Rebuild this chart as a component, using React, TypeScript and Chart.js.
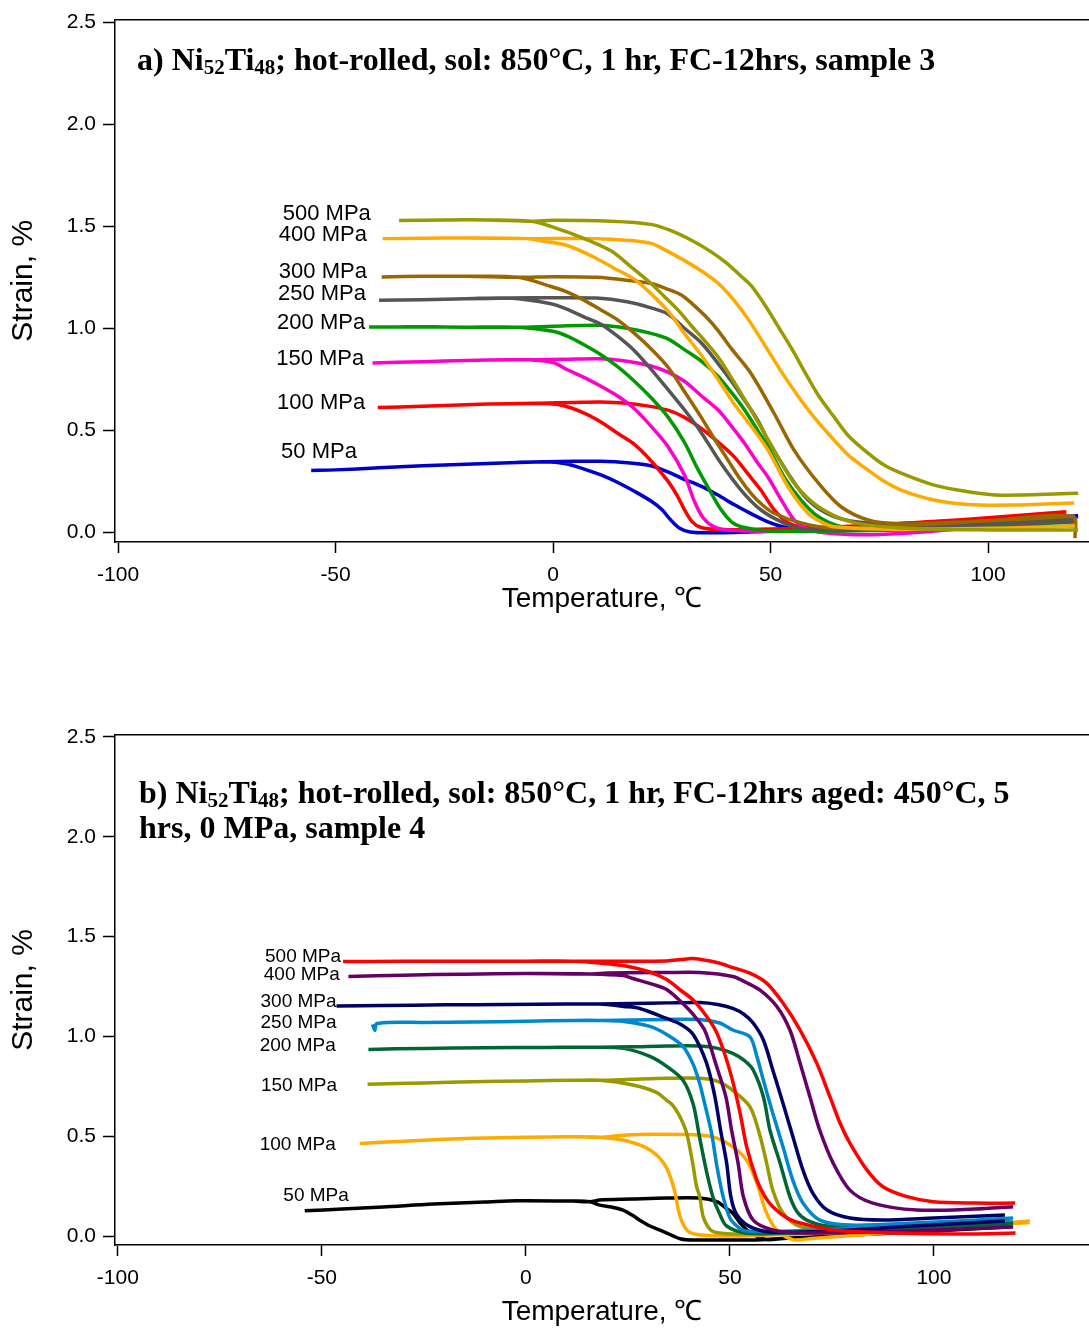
import React, { useEffect, useRef } from "react";
import { Chart, registerables } from "chart.js";
Chart.register(...registerables);

type P = [number, number];

// ---------------- Panel a data: [temperature °C, strain %] ----------------
// plateau: low-temperature part (left end -> split); cool: split -> high T end; heat: split -> high T end
const a50Plateau: P[] = [[-55.6, 0.302], [-50, 0.305], [-40, 0.315], [-30, 0.325], [-20, 0.333], [-10, 0.34], [-2, 0.345]];
const a50Cool: P[] = [[3, 0.335], [7, 0.31], [11, 0.28], [15, 0.242], [18.7, 0.2], [22.5, 0.152], [25, 0.11], [27, 0.06], [29, 0.02], [31.5, 0.0], [36, -0.004], [45, 0.0], [60, 0.01], [80, 0.03], [100, 0.052], [120.7, 0.075]];
const a50Heat: P[] = [[5, 0.347], [11, 0.347], [17, 0.34], [22.5, 0.325], [26.4, 0.295], [30, 0.26], [34, 0.225], [38, 0.18], [41.6, 0.135], [45.5, 0.09], [49.4, 0.05], [53, 0.025], [57, 0.012], [65, 0.012], [80, 0.03], [100, 0.055], [120.7, 0.08]];

const a100Plateau: P[] = [[-40.3, 0.611], [-30, 0.617], [-20, 0.625], [-10, 0.63], [-3, 0.632]];
const a100Cool: P[] = [[2, 0.622], [7, 0.585], [11, 0.54], [15, 0.482], [18.7, 0.43], [22.5, 0.35], [26.4, 0.25], [28.5, 0.18], [30.2, 0.11], [32, 0.05], [34, 0.022], [38, 0.012], [50, 0.015], [70, 0.03], [90, 0.055], [110, 0.08], [118, 0.095]];
const a100Heat: P[] = [[5, 0.636], [11, 0.638], [17, 0.632], [22, 0.618], [26.4, 0.598], [30, 0.565], [34, 0.51], [38, 0.44], [41.6, 0.37], [45, 0.28], [47.8, 0.205], [50.8, 0.11], [54, 0.045], [58, 0.022], [65, 0.025], [80, 0.04], [100, 0.07], [118, 0.1]];

const a150Plateau: P[] = [[-41.5, 0.83], [-30, 0.836], [-20, 0.842], [-10, 0.845], [-5, 0.845]];
const a150Cool: P[] = [[0, 0.832], [3.4, 0.795], [7, 0.76], [11, 0.715], [15, 0.665], [18.7, 0.605], [22.5, 0.52], [26.4, 0.42], [30.2, 0.28], [32.5, 0.15], [34.5, 0.07], [37, 0.025], [40, 0.01], [50, 0.004], [70, 0.01], [90, 0.035], [110, 0.06], [118, 0.07]];
const a150Heat: P[] = [[3, 0.848], [11, 0.85], [17, 0.838], [22.5, 0.815], [26.4, 0.785], [30.2, 0.74], [34, 0.67], [37.9, 0.6], [41, 0.52], [44, 0.436], [47, 0.34], [49.4, 0.27], [52.4, 0.16], [55.4, 0.06], [58, 0.02], [61, 0.0], [68, -0.012], [75, -0.012], [85, 0.0], [100, 0.03], [115, 0.06]];

const a200Plateau: P[] = [[-42.3, 1.006], [-30, 1.007], [-20, 1.005], [-8, 1.005]];
const a200Cool: P[] = [[0, 0.985], [3.4, 0.96], [7, 0.92], [11, 0.87], [14.9, 0.81], [18.7, 0.74], [22.5, 0.66], [26.4, 0.565], [30.2, 0.44], [33, 0.32], [35.6, 0.22], [38.6, 0.11], [41, 0.05], [43.2, 0.026], [49.4, 0.005], [60, 0.003], [80, 0.01], [100, 0.02], [120, 0.03]];
const a200Heat: P[] = [[0, 1.01], [11, 1.015], [17, 1.0], [22.5, 0.975], [26.4, 0.948], [30.2, 0.895], [34, 0.84], [37.9, 0.765], [41, 0.685], [44, 0.6], [47, 0.5], [49.4, 0.418], [53.1, 0.271], [57, 0.157], [61, 0.075], [66.2, 0.026], [72, 0.012], [90, 0.02], [110, 0.04], [120, 0.05]];

const a250Plateau: P[] = [[-40, 1.137], [-30, 1.14], [-20, 1.145], [-10, 1.148]];
const a250Cool: P[] = [[-0.5, 1.12], [3, 1.095], [7.2, 1.055], [11, 1.02], [14.9, 0.96], [18.7, 0.89], [22.5, 0.8], [26.4, 0.7], [30.2, 0.6], [34, 0.49], [38.6, 0.337], [43.2, 0.206], [47.8, 0.108], [53.1, 0.044], [57.5, 0.015], [65, 0.01], [80, 0.02], [100, 0.035], [120, 0.05]];
const a250Heat: P[] = [[0, 1.15], [10, 1.148], [17, 1.13], [22.5, 1.1], [26.4, 1.07], [30.2, 1.0], [34, 0.93], [37.9, 0.828], [41, 0.74], [44, 0.647], [47, 0.55], [49.4, 0.451], [54, 0.289], [58.6, 0.157], [64.6, 0.075], [72.4, 0.044], [85, 0.045], [100, 0.05], [120, 0.065]];

const a300Plateau: P[] = [[-39.4, 1.252], [-30, 1.255], [-20, 1.255], [-8, 1.25]];
const a300Cool: P[] = [[-0.5, 1.205], [3, 1.18], [7.2, 1.137], [11, 1.09], [14.9, 1.04], [18.7, 0.975], [22.5, 0.9], [26.4, 0.81], [30.2, 0.69], [34, 0.565], [37, 0.46], [40.2, 0.353], [43, 0.26], [45.5, 0.19], [48, 0.135], [50.8, 0.092], [57, 0.044], [64, 0.02], [80, 0.03], [100, 0.055], [119.5, 0.075], [120, -0.03]];
const a300Heat: P[] = [[0, 1.253], [10, 1.25], [17.4, 1.235], [22.5, 1.22], [26, 1.195], [29.4, 1.165], [32, 1.12], [35, 1.06], [37.9, 0.99], [41, 0.9], [45.5, 0.778], [50.8, 0.583], [55.4, 0.402], [61, 0.24], [66.2, 0.124], [72.4, 0.059], [79, 0.04], [90, 0.045], [105, 0.06], [120, 0.078]];

const a400Plateau: P[] = [[-39.2, 1.44], [-30, 1.442], [-20, 1.443], [-6, 1.44]];
const a400Cool: P[] = [[-2.8, 1.43], [3.4, 1.405], [9.3, 1.35], [14, 1.295], [18.7, 1.24], [22.5, 1.17], [27, 1.07], [30, 0.98], [34, 0.87], [37.9, 0.75], [41.6, 0.63], [45.5, 0.52], [49.4, 0.402], [54, 0.222], [58.6, 0.092], [62, 0.045], [64.6, 0.026], [75, 0.015], [90, 0.015], [105, 0.02], [120, 0.03]];
const a400Heat: P[] = [[0, 1.44], [10, 1.44], [22, 1.42], [27, 1.37], [33.5, 1.29], [38, 1.22], [41.6, 1.137], [45, 1.04], [49.4, 0.892], [53, 0.77], [57, 0.647], [60.5, 0.55], [64.6, 0.451], [68, 0.375], [72.4, 0.304], [76, 0.25], [80, 0.206], [87.6, 0.157], [95.4, 0.135], [105, 0.132], [119.8, 0.142]];

const a500Plateau: P[] = [[-35.4, 1.529], [-25, 1.532], [-15, 1.532], [-5, 1.525]];
const a500Cool: P[] = [[-0.5, 1.5], [7.2, 1.44], [13.3, 1.38], [18, 1.3], [22.5, 1.22], [25.4, 1.16], [28.7, 1.09], [31.9, 1.01], [34, 0.96], [37.9, 0.86], [41.5, 0.74], [45.5, 0.598], [50.8, 0.402], [55.4, 0.24], [61, 0.124], [68.5, 0.05], [80, 0.02], [100, 0.01], [120.7, 0.01]];
const a500Heat: P[] = [[0, 1.53], [13.3, 1.525], [22.5, 1.51], [27, 1.48], [31.9, 1.431], [36, 1.38], [39.9, 1.32], [43, 1.26], [45.5, 1.21], [48.5, 1.12], [52, 1.0], [55, 0.895], [58, 0.78], [61, 0.67], [64.6, 0.565], [68, 0.47], [72.4, 0.387], [76, 0.33], [80, 0.289], [87.6, 0.23], [95.4, 0.198], [103, 0.181], [120.7, 0.19]];

// ---------------- Panel b data ----------------
const b50Plateau: P[] = [[-54.2, 0.127], [-45, 0.135], [-35, 0.145], [-22.7, 0.16], [-10, 0.17], [-2.3, 0.177], [11.6, 0.175], [15.7, 0.172]];
const b50Cool: P[] = [[18.1, 0.155], [21, 0.145], [23.8, 0.13], [26, 0.105], [28, 0.078], [30.4, 0.05], [34, 0.02], [38, -0.015], [42, -0.02], [46, -0.02], [55, -0.02], [65, -0.01], [80, 0.005], [100, 0.025], [118, 0.045]];
const b50Heat: P[] = [[18.1, 0.18], [26, 0.185], [34.5, 0.19], [42.6, 0.19], [46.8, 0.172], [49, 0.14], [50.7, 0.115], [52.5, 0.065], [54.9, 0.018], [59, -0.018], [63, -0.012], [70, -0.005], [85, 0.01], [100, 0.03], [118, 0.05]];

const b100Plateau: P[] = [[-40.7, 0.464], [-30, 0.475], [-20, 0.485], [-13, 0.49], [0, 0.495], [11.6, 0.497], [18.1, 0.495]];
const b100Cool: P[] = [[24, 0.48], [28, 0.455], [30.5, 0.43], [32.8, 0.39], [34.5, 0.34], [35.5, 0.29], [36.5, 0.22], [37.5, 0.12], [38.5, 0.06], [40, 0.02], [43, 0.005], [50, 0.0], [60, 0.005], [80, 0.02], [100, 0.04], [123.5, 0.068]];
const b100Heat: P[] = [[24, 0.505], [30.4, 0.51], [42.6, 0.506], [46.8, 0.49], [50.7, 0.447], [54.1, 0.38], [56.6, 0.265], [59, 0.115], [61.5, 0.03], [65.4, -0.018], [70, -0.012], [85, 0.01], [100, 0.035], [123.5, 0.075]];

const b150Plateau: P[] = [[-38.8, 0.76], [-25, 0.767], [-13, 0.773], [0, 0.777], [11.6, 0.78], [18.1, 0.78]];
const b150Cool: P[] = [[26.2, 0.757], [32, 0.72], [34.5, 0.68], [36, 0.655], [37.7, 0.6], [39.4, 0.515], [41, 0.35], [41.8, 0.25], [42.6, 0.197], [43.4, 0.1], [44.5, 0.05], [45.9, 0.022], [50.7, 0.01], [65, 0.015], [85, 0.03], [100, 0.04], [119.4, 0.055]];
const b150Heat: P[] = [[26, 0.785], [34.5, 0.79], [42.6, 0.79], [47, 0.775], [50.7, 0.73], [54.9, 0.648], [57.4, 0.5], [59, 0.365], [60.5, 0.23], [63, 0.115], [67.2, 0.047], [75, 0.04], [90, 0.045], [105, 0.052], [119.4, 0.06]];

const b200Plateau: P[] = [[-38.6, 0.935], [-25, 0.94], [-10, 0.943], [5, 0.945], [18.1, 0.946]];
const b200Cool: P[] = [[24, 0.94], [30.4, 0.9], [34.5, 0.85], [38.5, 0.78], [41, 0.66], [42.6, 0.49], [44.3, 0.32], [45.9, 0.19], [47.5, 0.11], [49.2, 0.05], [54, 0.015], [65, 0.015], [85, 0.03], [100, 0.045], [119.4, 0.06]];
const b200Heat: P[] = [[26, 0.948], [34.5, 0.952], [42.6, 0.952], [47, 0.94], [50.7, 0.915], [53.5, 0.88], [55.7, 0.832], [58.2, 0.698], [59.8, 0.531], [62.3, 0.365], [64.7, 0.197], [66.5, 0.12], [68.8, 0.08], [74, 0.05], [90, 0.05], [105, 0.058], [119.4, 0.065]];

const b250Plateau: P[] = [[-37.6, 1.06], [-37.0, 1.03], [-36.5, 1.065], [-25, 1.07], [-13, 1.072], [0, 1.076], [11.6, 1.08], [18.1, 1.08]];
const b250Cool: P[] = [[24, 1.075], [30.4, 1.05], [34.5, 1.01], [38.5, 0.95], [41, 0.86], [42.5, 0.77], [43.4, 0.698], [45.5, 0.515], [46.8, 0.35], [48.3, 0.2], [50, 0.09], [52, 0.045], [54, 0.025], [65, 0.025], [85, 0.045], [100, 0.065], [119.4, 0.085]];
const b250Heat: P[] = [[26, 1.082], [34.5, 1.085], [42.6, 1.085], [47.5, 1.067], [50.7, 1.032], [54.9, 0.998], [56.6, 0.9], [58.2, 0.78], [60.5, 0.615], [63, 0.447], [65.4, 0.28], [67.9, 0.165], [72, 0.08], [79.4, 0.055], [95, 0.065], [119.4, 0.09]];

const b300Plateau: P[] = [[-46.4, 1.152], [-35, 1.155], [-20, 1.158], [-5, 1.16], [10, 1.162], [18.1, 1.162]];
const b300Cool: P[] = [[24, 1.15], [27.9, 1.14], [34.5, 1.09], [38, 1.06], [41, 1.01], [44.3, 0.865], [46.3, 0.7], [47.7, 0.531], [49.2, 0.365], [50.2, 0.2], [51.6, 0.11], [54.9, 0.047], [60, 0.02], [75, 0.025], [95, 0.05], [117.4, 0.075]];
const b300Heat: P[] = [[26, 1.165], [34.5, 1.168], [42.6, 1.17], [47, 1.16], [50.7, 1.14], [53.5, 1.11], [55.7, 1.067], [58.2, 0.982], [60.5, 0.832], [63, 0.665], [65.4, 0.5], [67.9, 0.33], [70.3, 0.215], [73.8, 0.13], [79.4, 0.09], [87.6, 0.08], [100, 0.09], [117.4, 0.105]];

const b400Plateau: P[] = [[-43.5, 1.3], [-30, 1.307], [-15, 1.312], [0, 1.315], [15.7, 1.313]];
const b400Cool: P[] = [[23.8, 1.305], [26.2, 1.29], [32, 1.255], [34.5, 1.235], [37.7, 1.18], [41, 1.11], [43.8, 1.032], [46.5, 0.865], [49, 0.698], [50.4, 0.531], [52, 0.365], [53.3, 0.197], [55.7, 0.08], [60.5, 0.03], [67, 0.015], [85, 0.02], [100, 0.03], [119.4, 0.045]];
const b400Heat: P[] = [[20, 1.318], [34.5, 1.32], [42.6, 1.32], [50.7, 1.3], [54, 1.27], [57.4, 1.232], [61.5, 1.15], [64.7, 1.032], [67.2, 0.865], [69.6, 0.698], [72, 0.531], [75.3, 0.365], [79.4, 0.23], [85, 0.165], [95.8, 0.13], [110, 0.135], [119.4, 0.147]];

const b500Plateau: P[] = [[-44.8, 1.375], [-30, 1.376], [-15, 1.377], [0, 1.377], [11.6, 1.377]];
const b500Cool: P[] = [[15.7, 1.372], [23.8, 1.355], [30, 1.325], [34.5, 1.285], [38, 1.23], [41, 1.182], [44.3, 1.1], [46.5, 1.03], [48.4, 0.932], [50.5, 0.79], [52.5, 0.615], [54.1, 0.447], [56.6, 0.28], [58.5, 0.2], [60.5, 0.147], [64, 0.09], [67.2, 0.065], [75.3, 0.03], [90, 0.015], [105, 0.01], [120, 0.015]];
const b500Heat: P[] = [[20, 1.377], [34.5, 1.378], [38, 1.385], [41, 1.39], [46.8, 1.37], [50.7, 1.345], [54.9, 1.317], [59, 1.267], [63, 1.167], [67.2, 1.032], [71.3, 0.865], [74.5, 0.698], [77, 0.565], [79.4, 0.465], [83.6, 0.33], [87.5, 0.247], [93.4, 0.197], [99.8, 0.172], [110, 0.165], [119.9, 0.165]];

// ---------------- labels and ticks ----------------
const stressLabels = ["500 MPa", "400 MPa", "300 MPa", "250 MPa", "200 MPa", "150 MPa", "100 MPa", "50 MPa"];
const aLabelT = [-41.9, -42.8, -42.8, -43.0, -43.2, -43.4, -43.2, -45.1];
const aLabelS = [1.559, 1.456, 1.276, 1.167, 1.026, 0.848, 0.632, 0.392];
const bLabelT = [-45.3, -45.6, -46.4, -46.4, -46.6, -46.3, -46.6, -43.4];
const bLabelS = [1.399, 1.311, 1.174, 1.069, 0.954, 0.755, 0.459, 0.202];

const aColors = ["#999900", "#ffaa00", "#996600", "#555555", "#009900", "#ff00cc", "#ff0000", "#0000cc"];
const bColors = ["#ff0000", "#660066", "#000066", "#0088cc", "#006633", "#999900", "#ffaa00", "#000000"];

const xTickStep = 50;
const yTickStep = 0.5;
const xTitle = "Temperature, \u2103";
const yTitle = "Strain, %";

type Seg = { t: string; sub?: boolean };
const aTitle: Seg[][] = [[{ t: "a) Ni" }, { t: "52", sub: true }, { t: "Ti" }, { t: "48", sub: true }, { t: "; hot-rolled, sol: 850\u00B0C, 1 hr, FC-12hrs, sample 3" }]];
const bTitle: Seg[][] = [
  [{ t: "b) Ni" }, { t: "52", sub: true }, { t: "Ti" }, { t: "48", sub: true }, { t: "; hot-rolled, sol: 850\u00B0C, 1 hr, FC-12hrs aged: 450\u00B0C, 5" }],
  [{ t: "hrs, 0 MPa, sample 4" }],
];

const aLoops: P[][][] = [
  [a500Plateau, a500Cool, a500Heat], [a400Plateau, a400Cool, a400Heat], [a300Plateau, a300Cool, a300Heat],
  [a250Plateau, a250Cool, a250Heat], [a200Plateau, a200Cool, a200Heat], [a150Plateau, a150Cool, a150Heat],
  [a100Plateau, a100Cool, a100Heat], [a50Plateau, a50Cool, a50Heat],
];
const bLoops: P[][][] = [
  [b500Plateau, b500Cool, b500Heat], [b400Plateau, b400Cool, b400Heat], [b300Plateau, b300Cool, b300Heat],
  [b250Plateau, b250Cool, b250Heat], [b200Plateau, b200Cool, b200Heat], [b150Plateau, b150Cool, b150Heat],
  [b100Plateau, b100Cool, b100Heat], [b50Plateau, b50Cool, b50Heat],
];

function loopPath(plateau: P[], cool: P[], heat: P[]) {
  const pts = [...cool.slice().reverse(), ...plateau.slice().reverse(), ...plateau, ...heat];
  return pts.map(([x, y]) => ({ x, y }));
}

const SANS = '"Liberation Sans", Arial, Helvetica, sans-serif';
const SERIF = '"Liberation Serif", "Times New Roman", serif';

type PanelSpec = {
  loops: P[][][];
  colors: string[];
  labelT: number[];
  labelS: number[];
  labelSize: number;
  title: Seg[][];
  titleX: number;
  titleBaselines: number[];
  titleSize: number;
  xMin: number;
  xMax: number;
  yMin: number;
  yMax: number;
  padTop: number;
  padBottom: number;
  xAxisHeight: number;
};

function makeConfig(p: PanelSpec): any {
  const datasets = p.loops.map((l, i) => ({
    label: stressLabels[i],
    data: loopPath(l[0], l[1], l[2]),
    borderColor: p.colors[i],
    backgroundColor: p.colors[i],
    borderWidth: 3.5,
    pointRadius: 0,
    showLine: true,
    fill: false,
    tension: 0.3,
  }));
  const textPlugin = {
    id: "panelText",
    afterDraw(chart: any) {
      const ctx = chart.ctx as CanvasRenderingContext2D;
      const xs = chart.scales.x;
      const ys = chart.scales.y;
      ctx.save();
      ctx.fillStyle = "#000";
      ctx.textAlign = "right";
      ctx.textBaseline = "middle";
      ctx.font = `${p.labelSize}px ${SANS}`;
      stressLabels.forEach((s, i) => {
        ctx.fillText(s, xs.getPixelForValue(p.labelT[i]), ys.getPixelForValue(p.labelS[i]));
      });
      ctx.textAlign = "left";
      ctx.textBaseline = "alphabetic";
      p.title.forEach((line, li) => {
        let cx = p.titleX;
        line.forEach((seg) => {
          const fs = seg.sub ? Math.round(p.titleSize * 0.66) : p.titleSize;
          ctx.font = `bold ${fs}px ${SERIF}`;
          ctx.fillText(seg.t, cx, p.titleBaselines[li] + (seg.sub ? p.titleSize * 0.13 : 0));
          cx += ctx.measureText(seg.t).width;
        });
      });
      ctx.restore();
    },
  };
  const tickFont = { family: SANS, size: 21 };
  return {
    type: "scatter",
    data: { datasets },
    plugins: [textPlugin],
    options: {
      responsive: false,
      maintainAspectRatio: false,
      devicePixelRatio: 1,
      animation: false,
      layout: { padding: { left: 0, right: 0, top: p.padTop, bottom: p.padBottom }, autoPadding: false },
      plugins: { legend: { display: false }, tooltip: { enabled: false }, title: { display: false } },
      scales: {
        x: {
          type: "linear",
          position: "bottom",
          min: p.xMin,
          max: p.xMax,
          ticks: {
            stepSize: xTickStep,
            includeBounds: false,
            color: "#000",
            font: tickFont,
            padding: 10,
            maxRotation: 0,
            autoSkip: false,
            callback: (v: any) => String(v),
          },
          grid: { display: true, drawOnChartArea: false, drawTicks: true, tickLength: 11, tickWidth: 1.5, tickColor: "#000" },
          border: { display: true, color: "#000", width: 1.5 },
          title: { display: true, text: xTitle, color: "#000", font: { family: SANS, size: 28 }, padding: { top: 0, bottom: 0 } },
          afterFit: (s: any) => { s.height = p.xAxisHeight; },
        },
        xTop: {
          type: "linear",
          position: "top",
          min: p.xMin,
          max: p.xMax,
          ticks: { display: false },
          grid: { display: true, drawOnChartArea: false, drawTicks: false },
          border: { display: true, color: "#000", width: 1.5 },
          afterFit: (s: any) => { s.height = 0; },
        },
        y: {
          type: "linear",
          position: "left",
          min: p.yMin,
          max: p.yMax,
          ticks: {
            stepSize: yTickStep,
            includeBounds: false,
            color: "#000",
            font: tickFont,
            padding: 7,
            callback: (v: any) => Number(v).toFixed(1),
          },
          grid: { display: true, drawOnChartArea: false, drawTicks: true, tickLength: 12, tickWidth: 1.5, tickColor: "#000" },
          border: { display: true, color: "#000", width: 1.5 },
          title: { display: true, text: yTitle, color: "#000", font: { family: SANS, size: 30 }, padding: { top: 6, bottom: 0 } },
          afterFit: (s: any) => { s.width = 115; },
        },
      },
    },
  };
}

const panelA: PanelSpec = {
  loops: aLoops,
  colors: aColors,
  labelT: aLabelT,
  labelS: aLabelS,
  labelSize: 22,
  title: aTitle,
  titleX: 137,
  titleBaselines: [70],
  titleSize: 32,
  xMin: -100.7,
  xMax: 123.2,
  yMin: -0.049,
  yMax: 2.515,
  padTop: 19,
  padBottom: 34,
  xAxisHeight: 74,
};

const panelB: PanelSpec = {
  loops: bLoops,
  colors: bColors,
  labelT: bLabelT,
  labelS: bLabelS,
  labelSize: 19,
  title: bTitle,
  titleX: 139,
  titleBaselines: [153, 188],
  titleSize: 32,
  xMin: -100.7,
  xMax: 138,
  yMin: -0.045,
  yMax: 2.51,
  padTop: 85,
  padBottom: 0,
  xAxisHeight: 84,
};

export default function App() {
  const refA = useRef<HTMLCanvasElement>(null);
  const refB = useRef<HTMLCanvasElement>(null);
  useEffect(() => {
    const ca = new Chart(refA.current as HTMLCanvasElement, makeConfig(panelA));
    const cb = new Chart(refB.current as HTMLCanvasElement, makeConfig(panelB));
    return () => {
      ca.destroy();
      cb.destroy();
    };
  }, []);
  return (
    <div style={{ position: "absolute", left: 0, top: 0, width: 1089, height: 1329, background: "#fff" }}>
      <canvas ref={refA} width={1089} height={650} style={{ position: "absolute", left: 0, top: 0, width: 1089, height: 650 }} />
      <canvas ref={refB} width={1089} height={679} style={{ position: "absolute", left: 0, top: 650, width: 1089, height: 679 }} />
    </div>
  );
}
